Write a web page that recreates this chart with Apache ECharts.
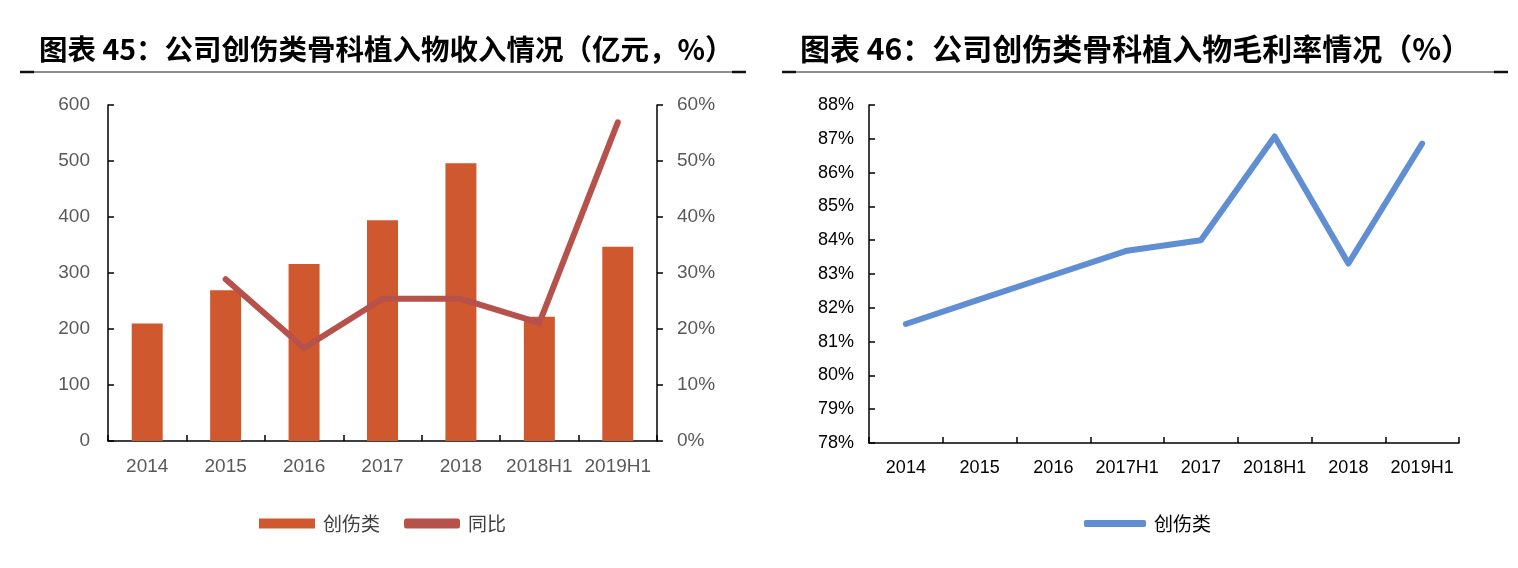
<!DOCTYPE html>
<html>
<head>
<meta charset="utf-8">
<script src="https://cdn.jsdelivr.net/npm/echarts@6/dist/echarts.min.js"></script>
<style>
html,body{margin:0;padding:0;background:#fff;}
#c{width:1518px;height:568px;}
</style>
</head>
<body>
<div id="c"></div>
<script>
// ---- data ----
var categoriesLeft = ['2014', '2015', '2016', '2017', '2018', '2018H1', '2019H1'];
var revenue = [210, 269, 316, 394, 496, 222, 347];
var yoyGrowth = [null, 28.9, 16.6, 25.4, 25.4, 21.1, 56.9];
var leftTicks = [0, 600, 100];      // min, max, interval
var rightTicks = [0, 60, 10];

var categoriesRight = ['2014', '2015', '2016', '2017H1', '2017', '2018H1', '2018', '2019H1'];
var grossMargin = [81.52, 82.25, 82.97, 83.69, 84.0, 87.07, 83.31, 86.86];
var marginTicks = [78, 88, 1];

var titleLeft = '图表 45：公司创伤类骨科植入物收入情况（亿元，%）';
var titleRight = '图表 46：公司创伤类骨科植入物毛利率情况（%）';

// ---- styles ----
var BAR = '#CF582F';
var RED = '#B6524B';
var BLUE = '#5F8ED2';
var NUM_FONT = 'Liberation Sans';
var CJK_FONT = 'Noto Sans CJK SC';

var chart = echarts.init(document.getElementById('c'), null, {renderer: 'canvas'});

function axisLineStyle() { return {show: true, lineStyle: {color: '#000', width: 1.5}}; }

var option = {
  animation: false,
  backgroundColor: '#fff',
  graphic: [
    {type: 'text', left: 39, top: 35, style: {text: titleLeft, font: 'bold 28.5px "Noto Sans CJK SC"', fill: '#000'}},
    {type: 'text', left: 800, top: 34, style: {text: titleRight, font: 'bold 30px "Noto Sans CJK SC"', fill: '#000'}},
    {type: 'line', shape: {x1: 20, y1: 72, x2: 746, y2: 72}, style: {stroke: '#8c8c8c', lineWidth: 2}},
    {type: 'line', shape: {x1: 20, y1: 72, x2: 34, y2: 72}, style: {stroke: '#111', lineWidth: 2.5}},
    {type: 'line', shape: {x1: 732, y1: 72, x2: 746, y2: 72}, style: {stroke: '#111', lineWidth: 2.5}},
    {type: 'line', shape: {x1: 782, y1: 72, x2: 1508, y2: 72}, style: {stroke: '#8c8c8c', lineWidth: 2}},
    {type: 'line', shape: {x1: 782, y1: 72, x2: 796, y2: 72}, style: {stroke: '#111', lineWidth: 2.5}},
    {type: 'line', shape: {x1: 1494, y1: 72, x2: 1508, y2: 72}, style: {stroke: '#111', lineWidth: 2.5}}
  ],
  grid: [
    {left: 108, right: 1518 - 657, top: 105, bottom: 568 - 441},
    {left: 869, right: 1518 - 1459, top: 105, bottom: 568 - 443}
  ],
  legend: [
    {
      left: 254, top: 509, itemGap: 24, itemWidth: 56, itemHeight: 10,
      textStyle: {fontFamily: CJK_FONT, fontSize: 19, color: '#404040', padding: [0, 0, 0, 3]},
      data: [
        {name: '创伤类', icon: 'rect', itemStyle: {color: BAR}},
        {name: '同比', icon: 'roundRect', itemStyle: {color: RED}}
      ],
      selectedMode: false
    },
    {
      left: 1079, top: 509, itemWidth: 62, itemHeight: 7,
      textStyle: {fontFamily: CJK_FONT, fontSize: 19, color: '#000', padding: [0, 0, 0, 3]},
      data: [{name: '创伤类 ', icon: 'roundRect', itemStyle: {color: BLUE}}],
      selectedMode: false
    }
  ],
  xAxis: [
    {
      type: 'category', gridIndex: 0, data: categoriesLeft, boundaryGap: true,
      axisLine: axisLineStyle(),
      axisTick: {show: true, inside: true, length: 6, interval: 0, lineStyle: {color: '#000', width: 1.5}},
      axisLabel: {interval: 0, margin: 16, fontFamily: NUM_FONT, fontSize: 19, color: '#595959'}
    },
    {
      type: 'category', gridIndex: 1, data: categoriesRight, boundaryGap: true,
      axisLine: axisLineStyle(),
      axisTick: {show: true, inside: true, length: 6, interval: 0, lineStyle: {color: '#000', width: 1.5}},
      axisLabel: {interval: 0, margin: 16, fontFamily: NUM_FONT, fontSize: 18, color: '#000'}
    }
  ],
  yAxis: [
    {
      type: 'value', gridIndex: 0, min: leftTicks[0], max: leftTicks[1], interval: leftTicks[2],
      axisLine: axisLineStyle(),
      axisTick: {show: true, inside: true, length: 6, lineStyle: {color: '#000', width: 1.5}},
      splitLine: {show: false},
      axisLabel: {margin: 18, fontFamily: NUM_FONT, fontSize: 19, color: '#595959'}
    },
    {
      type: 'value', gridIndex: 0, position: 'right', min: rightTicks[0], max: rightTicks[1], interval: rightTicks[2],
      axisLine: axisLineStyle(),
      axisTick: {show: true, inside: false, length: 6, lineStyle: {color: '#000', width: 1.5}},
      splitLine: {show: false},
      axisLabel: {margin: 20, fontFamily: NUM_FONT, fontSize: 19, color: '#595959', formatter: '{value}%'}
    },
    {
      type: 'value', gridIndex: 1, min: marginTicks[0], max: marginTicks[1], interval: marginTicks[2],
      axisLine: axisLineStyle(),
      axisTick: {show: true, inside: true, length: 6, lineStyle: {color: '#000', width: 1.5}},
      splitLine: {show: false},
      axisLabel: {margin: 15, fontFamily: NUM_FONT, fontSize: 18, color: '#000', formatter: '{value}%'}
    }
  ],
  series: [
    {
      name: '创伤类', type: 'bar', xAxisIndex: 0, yAxisIndex: 0, data: revenue,
      barWidth: 31, itemStyle: {color: BAR}
    },
    {
      name: '同比', type: 'line', xAxisIndex: 0, yAxisIndex: 1, data: yoyGrowth,
      showSymbol: false, symbol: 'none', connectNulls: false,
      lineStyle: {color: RED, width: 6, cap: 'round', join: 'round'}, itemStyle: {color: RED}
    },
    {
      name: '创伤类 ', type: 'line', xAxisIndex: 1, yAxisIndex: 2, data: grossMargin,
      showSymbol: false, symbol: 'none',
      lineStyle: {color: BLUE, width: 6, cap: 'round', join: 'round'}, itemStyle: {color: BLUE}
    }
  ]
};
chart.setOption(option);
</script>
</body>
</html>
